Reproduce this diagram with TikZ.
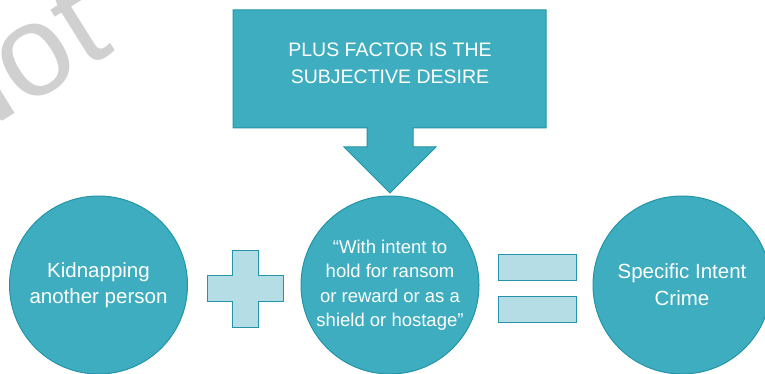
\documentclass[tikz,border=0pt]{standalone}
\usepackage{fontspec}
\setmainfont{Liberation Sans}
\definecolor{tealfill}{RGB}{62,173,192}
\definecolor{tealline}{RGB}{36,148,168}
\definecolor{lightfill}{RGB}{181,221,229}
\definecolor{wmgray}{RGB}{208,208,208}
\begin{document}
\begin{tikzpicture}[x=1pt,y=-1pt,
  bubble/.style={circle,fill=tealfill,draw=tealline,line width=1pt,minimum size=178pt,inner sep=0pt,text=white,align=center},
  callout/.style={fill=tealfill,draw=tealline,line width=1pt},
  sign/.style={fill=lightfill,draw=tealline,line width=1pt},
  bar/.style={sign,rectangle,minimum width=78pt,minimum height=26pt,inner sep=0pt},
  lbl/.style={text=white,align=center,inner sep=0pt}]
\useasboundingbox (0,0) rectangle (765,374);
\clip (0,0) rectangle (765,374);
% watermark
\node[text=wmgray,rotate=32,anchor=base west,inner sep=0pt,font=\fontsize{130}{130}\selectfont] (wm) at (-56,158) {Not};
% callout
\draw[callout] (233,10) -- (546,10) -- (546,128) -- (413,128) -- (413,147) -- (436,147)
  -- (390,193) -- (344,147) -- (367,147) -- (367,128) -- (233,128) -- cycle;
\node[lbl,font=\fontsize{19.5}{27}\selectfont] (top) at (390,63.5) {PLUS FACTOR IS THE\\SUBJECTIVE DESIRE};
% circles
\node[bubble,font=\fontsize{20.5}{26}\selectfont] (kid) at (98.5,285) {Kidnapping\\another person};
\node[bubble,font=\fontsize{18.5}{24.5}\selectfont] (intent) at (390,285) {“With intent to\\hold for ransom\\or reward or as a\\shield or hostage”};
\node[bubble,font=\fontsize{20.5}{27}\selectfont] (crime) at (682,285) {Specific Intent\\Crime};
% plus sign
\draw[sign] (232,250) -- (258,250) -- (258,275) -- (283,275) -- (283,301) -- (258,301)
  -- (258,327) -- (232,327) -- (232,301) -- (207,301) -- (207,275) -- (232,275) -- cycle;
% equals sign
\node[bar] (eqtop) at (537,267) {};
\node[bar] (eqbot) at (537,309) {};
\end{tikzpicture}
\end{document}
